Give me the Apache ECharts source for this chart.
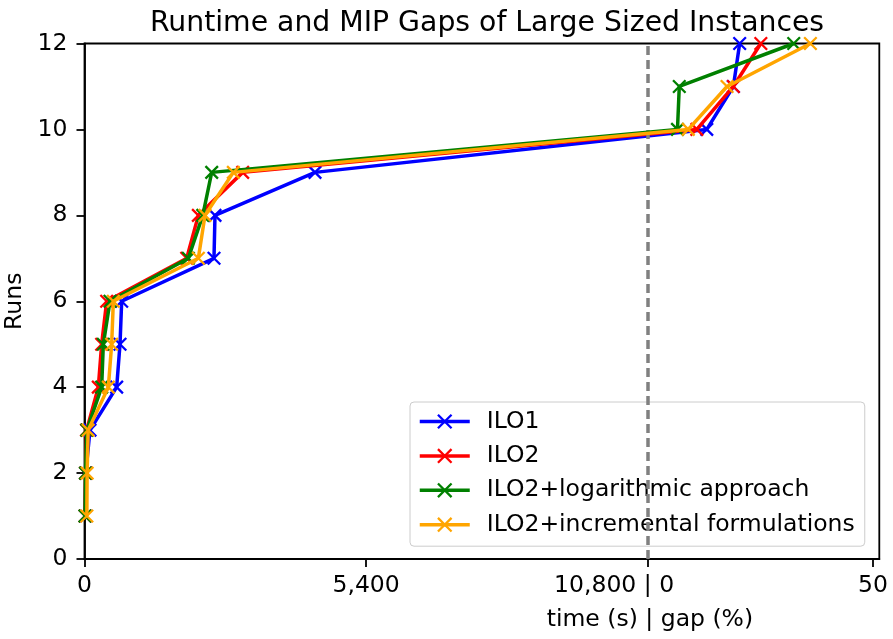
<!DOCTYPE html>
<html>
<head>
<meta charset="utf-8">
<script src="https://cdn.jsdelivr.net/npm/echarts@6/dist/echarts.min.js"></script>
<style>
  html, body { margin: 0; padding: 0; background: #fff; }
  #chart { width: 893px; height: 639px; }
</style>
</head>
<body>
<div id="chart"></div>
<script>
// Time limit (s) after which an unsolved run is reported by its MIP gap instead.
const TIME_LIMIT = 10800;
// The gap segment of the axis: 1 % of gap takes the width of 86.4 s.
const SECONDS_PER_GAP_PCT = 86.4;
const AXIS_END = 15240;

const runs = [1, 2, 3, 4, 5, 6, 7, 8, 9, 10, 11, 12];

// Runs 1-9 finish within the time limit (seconds); runs 10-12 stop with a gap (%).
const ilo1Times = [15, 25, 105, 617, 681, 713, 2483, 2502, 4420];
const ilo1Gaps = [13.1, 19.0, 20.4];

const ilo2Times = [10, 20, 40, 265, 329, 425, 1960, 2183, 3033];
const ilo2Gaps = [10.9, 19.0, 25.1];

const logTimes = [10, 20, 45, 329, 361, 489, 1991, 2268, 2439];
const logGaps = [6.6, 7.0, 32.4];

const incTimes = [45, 50, 70, 457, 521, 553, 2183, 2311, 2854];
const incGaps = [9.0, 17.6, 36.1];

const seriesNames = ['ILO1', 'ILO2', 'ILO2+logarithmic approach', 'ILO2+incremental formulations'];
const seriesColors = ['#0000ff', '#ff0000', '#008000', '#ffa500'];

const xTickValues = [0, 5400, 10800, 15120];
const xTickLabels = ['0', '5,400', '10,800 | 0', '50'];

const FONT = 'DejaVu Sans';
const LABEL_SIZE = 23.5;

function toPoints(times, gaps) {
  const xs = times.concat(gaps.map(g => TIME_LIMIT + g * SECONDS_PER_GAP_PCT));
  return xs.map((x, i) => [x, runs[i]]);
}

// A joined "time | gap" label is balanced so that its bar sits on the tick.
const measureCtx = document.createElement('canvas').getContext('2d');
measureCtx.font = LABEL_SIZE + 'px "' + FONT + '"';
function joinedPad(label) {
  const parts = label.split('|');
  return Math.max(0, measureCtx.measureText(parts[0]).width - measureCtx.measureText(parts[1]).width);
}
const splitLabel = xTickLabels.find(s => s.indexOf('|') >= 0);
const splitPad = splitLabel ? joinedPad(splitLabel) : 0;

const allTimes = [ilo1Times, ilo2Times, logTimes, incTimes];
const allGaps = [ilo1Gaps, ilo2Gaps, logGaps, incGaps];

const crossPath = 'path://M0,0L10,10M10,0L0,10';

const lineSeries = seriesNames.map((name, i) => ({
  name: name,
  type: 'line',
  data: toPoints(allTimes[i], allGaps[i]),
  color: seriesColors[i],
  symbol: crossPath,
  symbolSize: 12.5,
  showAllSymbol: true,
  lineStyle: { color: seriesColors[i], width: 3.5 },
  itemStyle: { color: seriesColors[i], borderColor: seriesColors[i], borderWidth: 2.3 },
  emphasis: { disabled: true },
  z: 3 + i
}));

// Dashed separator between the time segment and the gap segment.
const separator = {
  name: 'limit',
  type: 'line',
  data: [],
  z: 2,
  silent: true,
  markLine: {
    silent: true,
    symbol: ['none', 'none'],
    label: { show: false },
    lineStyle: { color: '#808080', width: 3.5, type: [9, 5] },
    emphasis: { disabled: true },
    data: [{ xAxis: TIME_LIMIT }]
  }
};

const chart = echarts.init(document.getElementById('chart'), null, { renderer: 'canvas' });
chart.setOption({
  animation: false,
  backgroundColor: '#ffffff',
  title: {
    text: 'Runtime and MIP Gaps of Large Sized Instances',
    left: 482,
    top: 5,
    textAlign: 'center',
    textStyle: { fontFamily: FONT, fontSize: 28.3, fontWeight: 'normal', color: '#000' }
  },
  grid: {
    left: 84.5,
    right: 13.7,
    top: 43.5,
    bottom: 80,
    show: true,
    borderColor: '#000',
    borderWidth: 1.8,
    containLabel: false,
    outerBoundsMode: 'none'
  },
  legend: {
    data: seriesNames,
    orient: 'vertical',
    left: 410,
    top: 402,
    itemWidth: 50,
    itemHeight: 17,
    itemGap: 9.4,
    padding: [7, 10, 9, 8],
    backgroundColor: 'rgba(255,255,255,0.8)',
    borderColor: '#cccccc',
    borderWidth: 1,
    borderRadius: 4,
    lineStyle: { width: 3.5 },
    itemStyle: { borderWidth: 2.3 },
    textStyle: { fontFamily: FONT, fontSize: LABEL_SIZE, color: '#000', lineHeight: 25, padding: [0, 0, 0, 12] }
  },
  xAxis: {
    type: 'value',
    min: 0,
    max: AXIS_END,
    name: 'time (s) | gap (%)',
    nameLocation: 'middle',
    nameGap: 49,
    nameTextStyle: { fontFamily: FONT, fontSize: LABEL_SIZE, color: '#000', padding: [0, 0, 0, 336] },
    splitLine: { show: false },
    axisLine: { show: true, lineStyle: { color: '#000', width: 1.8 } },
    axisTick: { show: true, inside: false, length: 8, lineStyle: { color: '#000', width: 1.8 }, customValues: xTickValues },
    axisLabel: {
      fontFamily: FONT, fontSize: LABEL_SIZE, color: '#000', margin: 15,
      customValues: xTickValues,
      formatter: v => {
        const k = xTickValues.indexOf(v);
        if (k < 0) return '';
        const s = xTickLabels[k];
        return s.indexOf('|') >= 0 ? s + '{pad|}' : s;
      },
      rich: { pad: { width: splitPad } }
    }
  },
  yAxis: {
    type: 'value',
    min: 0,
    max: 12,
    interval: 2,
    name: 'Runs',
    nameLocation: 'middle',
    nameGap: 52,
    nameTextStyle: { fontFamily: FONT, fontSize: LABEL_SIZE, color: '#000' },
    splitLine: { show: false },
    axisLine: { show: true, lineStyle: { color: '#000', width: 1.8 } },
    axisTick: { show: true, inside: false, length: 8, lineStyle: { color: '#000', width: 1.8 } },
    axisLabel: { fontFamily: FONT, fontSize: LABEL_SIZE, color: '#000', margin: 17 }
  },
  series: [separator].concat(lineSeries)
});
</script>
</body>
</html>
